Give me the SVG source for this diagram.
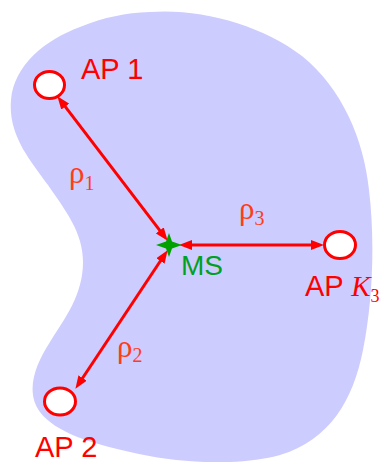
<svg xmlns="http://www.w3.org/2000/svg" width="385" height="462" viewBox="0 0 385 462">
<style>
.ap{fill:#ffffff;stroke:#ff0000;stroke-width:3}
.lbl{font-family:"Liberation Sans",Arial,sans-serif;font-size:29px;fill:#ff0000}
.rho{font-family:"Liberation Serif","Times New Roman",serif;font-size:31px;fill:#ff3c14}
.sub{font-size:20px}
.conn{stroke:#ff0000;stroke-width:3;fill:none;marker-start:url(#ah);marker-end:url(#ah)}
</style>
<defs>
<marker id="ah" markerUnits="userSpaceOnUse" markerWidth="13" markerHeight="10" refX="6" refY="5" orient="auto-start-reverse" viewBox="0 0 13 10">
<path d="M0,0 L13,5 L0,10 Z" fill="#ff0000"/>
</marker>
</defs>
<g id="region">
<path d="M150,12 C200,8 262,25 302,56 C342,88 364,140 369,190 C375,240 373,300 363,350 C353,400 330,440 280,455 C240,466 180,464 130,452 C90,443 55,432 40,412 C25,392 35,365 50,342 C65,318 83,295 83,262 C83,232 65,210 48,185 C30,160 8,135 11,100 C14,65 45,40 80,27 C105,17 125,13 150,12 Z" fill="#ccccff"/>
</g>
<g id="connectors">
<line class="conn" x1="61.6" y1="101.8" x2="163.4" y2="235.2"/>
<line class="conn" x1="79.3" y1="383" x2="163.7" y2="256"/>
<line class="conn" x1="186" y1="245" x2="317" y2="245"/>
<text class="rho" x="69" y="183">ρ<tspan class="sub" dy="7">1</tspan></text>
<text class="rho" x="117" y="357">ρ<tspan class="sub" dy="5">2</tspan></text>
<text class="rho" x="239" y="219">ρ<tspan class="sub" dy="6">3</tspan></text>
</g>
<g id="ms">
<polygon points="156,245 166,241.5 169,233 172,241.5 182,245 172,248.5 169,257 166,248.5" fill="#00a000"/>
<text x="181" y="275" style="font-family:'Liberation Sans',Arial,sans-serif;font-size:28px;fill:#00a020">MS</text>
</g>
<g id="ap1">
<ellipse class="ap" cx="49.5" cy="85" rx="15" ry="13.5"/>
<text class="lbl" x="81" y="79">AP 1</text>
</g>
<g id="ap2">
<ellipse class="ap" cx="60" cy="401.5" rx="15.5" ry="13.5"/>
<text class="lbl" x="35" y="457">AP 2</text>
</g>
<g id="ap3">
<ellipse class="ap" cx="340" cy="245" rx="15.5" ry="13.5"/>
<text class="lbl" x="305" y="296">AP <tspan font-family="'Liberation Serif','Times New Roman',serif" font-style="italic">K</tspan><tspan font-family="'Liberation Serif','Times New Roman',serif" font-size="18" dy="6">3</tspan></text>
</g>
</svg>
